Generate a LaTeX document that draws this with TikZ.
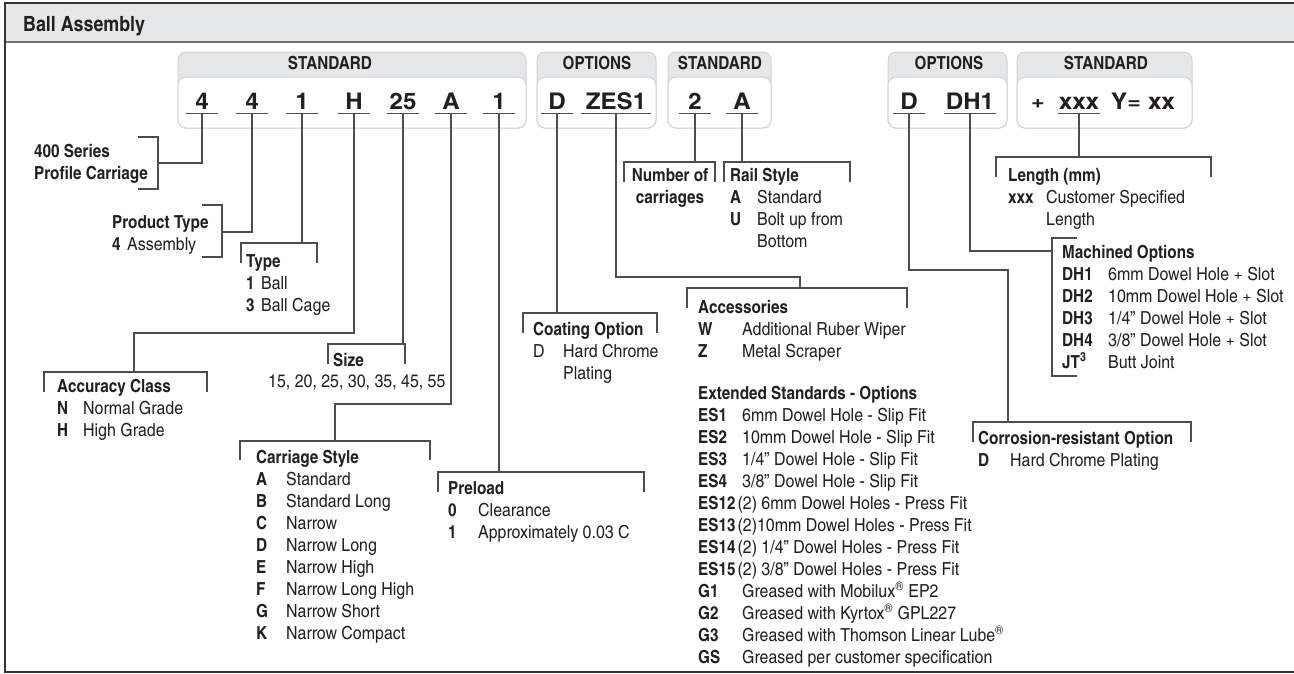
\documentclass[tikz,border=0pt]{standalone}
\usepackage{fontspec}
\setmainfont{texgyreheroscn}[Extension=.otf, UprightFont=*-regular, BoldFont=*-bold, ItalicFont=*-italic, BoldItalicFont=*-bolditalic,
  UprightFeatures={FakeStretch=1.08}, BoldFeatures={FakeStretch=1.035}]
\newfontfamily\codefont{texgyreheroscn}[Extension=.otf, UprightFont=*-bold, FakeStretch=1.28]
\usepackage{array}
\definecolor{bandgray}{HTML}{E6E7E8}
\definecolor{rimgray}{HTML}{D1D3D4}
\definecolor{ink}{HTML}{231F20}
\definecolor{linegray}{HTML}{4D4D4F}
\newcommand{\bodysize}{\fontsize{18}{22}\selectfont}
\newcommand{\codelist}[3]{\begin{tabular}[t]{@{}p{#1}@{}l@{}}\multicolumn{2}{@{}l@{}}{\bfseries #2}\\#3\end{tabular}}
\newcommand{\lines}[1]{\begin{tabular}[t]{@{}l@{}}#1\end{tabular}}
\newcommand{\reg}{\textsuperscript{\textregistered}}
\begin{document}
\begin{tikzpicture}[x=1pt, y=-1pt, every node/.style={text=ink, inner sep=0pt},
  lbl/.style={anchor=base west, font=\bodysize},
  digit/.style={anchor=base, font=\fontsize{23}{26}\codefont, text depth=4pt},
  hdr/.style={anchor=base, font=\fontsize{18}{20}\selectfont\bfseries},
  conn/.style={draw=linegray, line width=1.2pt},
  brk/.style={draw=linegray, line width=1.2pt},
  uline/.style={draw=linegray, line width=1.3pt}]
\useasboundingbox (0,0) rectangle (1294,673);
% frame and title band
\fill[bandgray] (5,3) rectangle (1294,42);
\draw[black!55, line width=1.5pt] (5,42) -- (1294,42);
\draw[black!80, line width=2pt] (1294,3) -- (5,3) -- (5,672) -- (1294,672);
\node[anchor=base west, font=\fontsize{21}{22}\selectfont\bfseries] (title) at (23,31) {Ball Assembly};

% part number boxes
\foreach \xa/\xb/\xl/\lab in {178/526/330/STANDARD, 537/656/597/OPTIONS, 668/771/720/STANDARD, 888/1007/949/OPTIONS, 1017/1192/1106/STANDARD} {
  \draw[rimgray, fill=bandgray, rounded corners=8pt, line width=1pt] (\xa,52) rectangle (\xb,128);
  \draw[rimgray, fill=white, rounded corners=8pt, line width=1pt] (\xa,77) rectangle (\xb,128);
  \node[hdr] (hdr\xa) at (\xl,69) {\lab};
}
\foreach \n/\x/\w/\t in {k1/202/32/4, k2/252/32/4, k3/302/32/1, k4/354/32/H, k5/403/32/25, k6/451/32/A, k7/499/32/1,
    kD/557/32/D, kZ/616/69/ZES1, kN/695/32/2, kR/742/32/A, kC/909/32/D, kM/970/52/DH1, kL/1079/42/xxx}
  \node[digit, minimum width=\w pt] (\n) at (\x,109) {\t};
\node[digit] (plus) at (1038,109) {+};
\node[digit] (yxx) at (1143,109) {Y= xx};
\foreach \n in {k1,k2,k3,k4,k5,k6,k7,kD,kZ,kN,kR,kC,kM,kL}
  \draw[uline] (\n.south west) -- (\n.south east);

% label blocks
\node[lbl, font=\bodysize\bfseries] (ser) at (34,157) {\lines{400 Series\\Profile Carriage}};
\node[lbl] (prod) at (112,228) {\codelist{15pt}{Product Type}{\textbf{4} & Assembly}};
\node[lbl] (typ) at (246,267) {\codelist{15pt}{Type}{\textbf{1} & Ball\\ \textbf{3} & Ball Cage}};
\node[lbl] (accu) at (57,392) {\codelist{26pt}{Accuracy Class}{\textbf{N} & Normal Grade\\ \textbf{H} & High Grade}};
\node[lbl, font=\bodysize\bfseries] (size) at (333,366) {Size};
\node[lbl] (sizes) at (268,387) {15, 20, 25, 30, 35, 45, 55};
\node[lbl] (sty) at (256,463) {\codelist{30pt}{Carriage Style}{\textbf{A} & Standard\\ \textbf{B} & Standard Long\\
  \textbf{C} & Narrow\\ \textbf{D} & Narrow Long\\ \textbf{E} & Narrow High\\ \textbf{F} & Narrow Long High\\
  \textbf{G} & Narrow Short\\ \textbf{K} & Narrow Compact}};
\node[lbl] (pre) at (448,494) {\codelist{30pt}{Preload}{\textbf{0} & Clearance\\ \textbf{1} & Approximately 0.03 C}};
\node[lbl] (coat) at (533,335) {\codelist{30pt}{Coating Option}{D & Hard Chrome\\ & Plating}};
\node[lbl] (accs) at (698,313) {\codelist{44pt}{Accessories}{\textbf{W} & Additional Ruber Wiper\\ \textbf{Z} & Metal Scraper}};
\node[lbl] (ext) at (698,399) {\codelist{44pt}{Extended Standards - Options}{\textbf{ES1} & 6mm Dowel Hole - Slip Fit\\
  \textbf{ES2} & 10mm Dowel Hole - Slip Fit\\ \textbf{ES3} & 1/4” Dowel Hole - Slip Fit\\ \textbf{ES4} & 3/8” Dowel Hole - Slip Fit\\
  \multicolumn{2}{@{}l@{}}{\textbf{ES12}\hspace{2pt}(2) 6mm Dowel Holes - Press Fit}\\
  \multicolumn{2}{@{}l@{}}{\textbf{ES13}\hspace{2pt}(2)10mm Dowel Holes - Press Fit}\\
  \multicolumn{2}{@{}l@{}}{\textbf{ES14}\hspace{2pt}(2) 1/4” Dowel Holes - Press Fit}\\
  \multicolumn{2}{@{}l@{}}{\textbf{ES15}\hspace{2pt}(2) 3/8” Dowel Holes - Press Fit}\\
  \textbf{G1} & Greased with Mobilux\reg{} EP2\\ \textbf{G2} & Greased with Kyrtox\reg{} GPL227\\
  \textbf{G3} & Greased with Thomson Linear Lube\reg\\ \textbf{GS} & Greased per customer specification}};
\node[lbl, anchor=base, font=\bodysize\bfseries] (num) at (670,181) {\begin{tabular}[t]{@{}c@{}}Number of\\carriages\end{tabular}};
\node[lbl] (rail) at (730,181) {\codelist{27pt}{Rail Style}{\textbf{A} & Standard\\ \textbf{U} & Bolt up from\\ & Bottom}};
\node[lbl] (cor) at (978,444) {\codelist{32pt}{Corrosion-resistant Option}{\textbf{D} & Hard Chrome Plating}};
\node[lbl] (mach) at (1062,258) {\codelist{46pt}{Machined Options}{\textbf{DH1} & 6mm Dowel Hole + Slot\\
  \textbf{DH2} & 10mm Dowel Hole + Slot\\ \textbf{DH3} & 1/4” Dowel Hole + Slot\\ \textbf{DH4} & 3/8” Dowel Hole + Slot\\
  \textbf{JT\textsuperscript{3}} & Butt Joint}};
\node[lbl] (len) at (1008,181) {\codelist{38pt}{Length (mm)}{\textbf{xxx} & Customer Specified\\ & Length}};

% brackets
\draw[brk] (138,137) -| (158,189) -- (138,189);
\draw[brk] (202,205) -| (222,257) -- (202,257);
\draw[brk] (241,263) |- (317,243) -- (317,263);
\draw[brk] (44,392) |- (207,372) -- (207,392);
\draw[brk] (328,364) |- (405,344) -- (405,364);
\draw[brk] (240,460) |- (430,441) -- (430,460);
\draw[brk] (438,492) |- (644,472) -- (644,492);
\draw[brk] (523,333) |- (657,313) -- (657,333);
\draw[brk] (687,308) |- (907,288) -- (907,308);
\draw[brk] (624,182) |- (715,162) -- (715,182);
\draw[brk] (724,182) |- (850,162) -- (850,182);
\draw[brk] (973,442) |- (1191,422) -- (1191,442);
\draw[brk] (1077,238) -| (1052,376) -- (1077,376);
\draw[brk] (996,177) |- (1211,157) -- (1211,177);
\coordinate (j1) at (158,163);
\coordinate (j2) at (222,232);
\coordinate (j3) at (302,243);
\coordinate (j4) at (134,372);
\coordinate (j5) at (403,344);
\coordinate (j6) at (335,441);
\coordinate (j7) at (499,472);
\coordinate (j8) at (557,313);
\coordinate (j9) at (800,288);
\coordinate (j10) at (695,162);
\coordinate (j11) at (742,162);
\coordinate (j12) at (1008,422);
\coordinate (j13) at (1052,251);
\coordinate (j14) at (1079,157);

% connectors
\draw[conn] (k1.south) |- (j1);
\draw[conn] (k2.south) |- (j2);
\draw[conn] (k3.south) -- (j3);
\draw[conn] (k4.south) |- (134,333) -- (j4);
\draw[conn] (k5.south) -- (j5);
\draw[conn] (k6.south) |- (335,404) -- (j6);
\draw[conn] (k7.south) -- (j7);
\draw[conn] (kD.south) -- (j8);
\draw[conn] (kZ.south) |- (800,277) -- (j9);
\draw[conn] (kN.south) -- (j10);
\draw[conn] (kR.south) -- (j11);
\draw[conn] (kC.south) |- (1008,270) -- (j12);
\draw[conn] (kM.south) |- (j13);
\draw[conn] (kL.south) -- (j14);
\end{tikzpicture}
\end{document}
